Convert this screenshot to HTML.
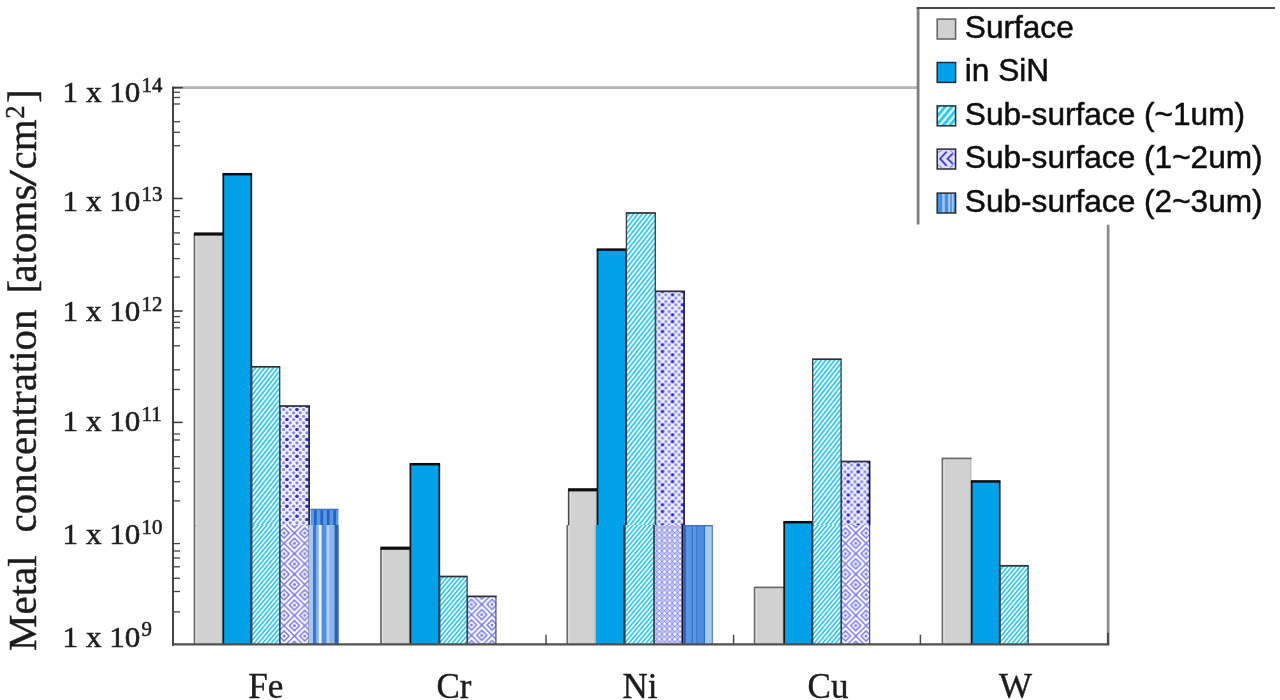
<!DOCTYPE html>
<html><head><meta charset="utf-8"><title>Metal concentration</title>
<style>
html,body{margin:0;padding:0;background:#fff;}
body{width:1280px;height:700px;overflow:hidden;position:relative;}
svg{position:absolute;left:0;top:0;display:block;}
.ser{font-family:"Liberation Serif","DejaVu Serif",serif;fill:#1c1c1c;}
.san{font-family:"Liberation Sans","DejaVu Sans",sans-serif;fill:#111;}
</style></head><body>
<svg width="1280" height="700" viewBox="0 0 1280 700">
<defs>
<pattern id="hatch" width="3.5" height="3.5" patternUnits="userSpaceOnUse" patternTransform="rotate(-52)">
<rect width="3.5" height="3.5" fill="#f0fdff"/><rect width="3.5" height="1.75" fill="#38c9ee"/></pattern>
<pattern id="hatchL" width="5.2" height="5.2" patternUnits="userSpaceOnUse" patternTransform="rotate(-50)">
<rect width="5.2" height="5.2" fill="#e4fbff"/><rect width="5.2" height="2.9" fill="#2cc8ea"/></pattern>
<pattern id="hatch2" width="3.3" height="3.3" patternUnits="userSpaceOnUse" patternTransform="rotate(-50)">
<rect width="3.3" height="3.3" fill="#f0fdff"/><rect width="3.3" height="1.65" fill="#38c9ee"/></pattern>
<pattern id="dia" width="20" height="20" patternUnits="userSpaceOnUse">
<rect width="20" height="20" fill="#f2f2fe"/>
<g fill="#8484ea"><circle cx="-6.32" cy="0.20" r="1.55"/><circle cx="0.35" cy="0.20" r="1.55"/><circle cx="7.02" cy="0.20" r="1.55"/><circle cx="13.68" cy="0.20" r="1.55"/><circle cx="20.35" cy="0.20" r="1.55"/><circle cx="-2.98" cy="3.53" r="1.55"/><circle cx="3.68" cy="3.53" r="1.55"/><circle cx="10.35" cy="3.53" r="1.55"/><circle cx="17.02" cy="3.53" r="1.55"/><circle cx="23.68" cy="3.53" r="1.55"/><circle cx="-6.32" cy="6.87" r="1.55"/><circle cx="0.35" cy="6.87" r="1.55"/><circle cx="7.02" cy="6.87" r="1.55"/><circle cx="13.68" cy="6.87" r="1.55"/><circle cx="20.35" cy="6.87" r="1.55"/><circle cx="-2.98" cy="10.20" r="1.55"/><circle cx="3.68" cy="10.20" r="1.55"/><circle cx="10.35" cy="10.20" r="1.55"/><circle cx="17.02" cy="10.20" r="1.55"/><circle cx="23.68" cy="10.20" r="1.55"/><circle cx="-6.32" cy="13.53" r="1.55"/><circle cx="0.35" cy="13.53" r="1.55"/><circle cx="7.02" cy="13.53" r="1.55"/><circle cx="13.68" cy="13.53" r="1.55"/><circle cx="20.35" cy="13.53" r="1.55"/><circle cx="-2.98" cy="16.87" r="1.55"/><circle cx="3.68" cy="16.87" r="1.55"/><circle cx="10.35" cy="16.87" r="1.55"/><circle cx="17.02" cy="16.87" r="1.55"/><circle cx="23.68" cy="16.87" r="1.55"/><circle cx="-6.32" cy="20.20" r="1.55"/><circle cx="0.35" cy="20.20" r="1.55"/><circle cx="7.02" cy="20.20" r="1.55"/><circle cx="13.68" cy="20.20" r="1.55"/><circle cx="20.35" cy="20.20" r="1.55"/></g>
<g fill="#2a2ad2"><circle cx="7.02" cy="13.53" r="1.75"/><circle cx="7.02" cy="0.2" r="1.75"/><circle cx="7.02" cy="20.2" r="1.75"/><circle cx="17.02" cy="3.53" r="1.75"/><circle cx="17.02" cy="10.2" r="1.75"/></g>
</pattern>
<pattern id="dia2" width="20.6" height="20.6" patternUnits="userSpaceOnUse" x="4.2" y="8">
<rect width="20.6" height="20.6" fill="#fbfbff"/>
<g fill="none" stroke="#7a7aea" stroke-width="1.5">
<path d="M0 10.3 L10.3 0 L20.6 10.3 L10.3 20.6 Z"/>
<path d="M5.3 10.3 L10.3 5.3 L15.3 10.3 L10.3 15.3 Z"/>
<path d="M-5 0 L0 -5 L5 0 L0 5 Z"/><path d="M15.6 0 L20.6 -5 L25.6 0 L20.6 5 Z"/>
<path d="M-5 20.6 L0 15.6 L5 20.6 L0 25.6 Z"/><path d="M15.6 20.6 L20.6 15.6 L25.6 20.6 L20.6 25.6 Z"/>
</g>
<g fill="#7a7aea"><circle cx="10.3" cy="10.3" r="1.5"/><circle cx="0" cy="0" r="1.5"/><circle cx="20.6" cy="0" r="1.5"/><circle cx="0" cy="20.6" r="1.5"/><circle cx="20.6" cy="20.6" r="1.5"/></g>
</pattern>
<pattern id="dia3" width="5.2" height="5.2" patternUnits="userSpaceOnUse">
<rect width="5.2" height="5.2" fill="#fafaff"/>
<path d="M0 2.6 L2.6 0 L5.2 2.6 L2.6 5.2 Z" fill="none" stroke="#8a8aec" stroke-width="1"/>
<rect x="2" y="2" width="1.2" height="1.2" fill="#6a6ae6"/></pattern>
<pattern id="vert" width="6.4" height="8" patternUnits="userSpaceOnUse" x="0.5">
<rect width="6.4" height="8" fill="#5c97e2"/><rect width="2.6" height="8" fill="#1f63c4"/></pattern>
</defs>
<filter id="soft" x="0" y="0" width="1280" height="700" filterUnits="userSpaceOnUse"><feGaussianBlur stdDeviation="0.55"/></filter>
<rect width="1280" height="700" fill="#fff"/>
<g filter="url(#soft)">

<path d="M173.2 87.6 H1108 V644.7" fill="none" stroke="#b2b2b2" stroke-width="2.6"/>
<path d="M1108.2 225 V644.7" fill="none" stroke="#8c8c8c" stroke-width="2.4"/>
<path d="M173.0 86.6 V645.7" stroke="#444" stroke-width="2"/>
<path d="M173.2 87.7 h9.5" stroke="#3a3a3a" stroke-width="1.5"/>
<path d="M173.2 198.5 h9.5" stroke="#3a3a3a" stroke-width="1.5"/>
<path d="M173.2 311.0 h9.5" stroke="#3a3a3a" stroke-width="1.5"/>
<path d="M173.2 422.4 h9.5" stroke="#3a3a3a" stroke-width="1.5"/>
<path d="M173.2 92.3 h6.8" stroke="#444" stroke-width="1.3"/>
<path d="M173.2 97.5 h6.8" stroke="#444" stroke-width="1.3"/>
<path d="M173.2 104 h6.8" stroke="#444" stroke-width="1.3"/>
<path d="M173.2 121.7 h6.8" stroke="#444" stroke-width="1.3"/>
<path d="M173.2 132.3 h6.8" stroke="#444" stroke-width="1.3"/>
<path d="M173.2 145.7 h6.8" stroke="#444" stroke-width="1.3"/>
<path d="M173.2 210.6 h6.8" stroke="#444" stroke-width="1.3"/>
<path d="M173.2 216.6 h6.8" stroke="#444" stroke-width="1.3"/>
<path d="M173.2 232.9 h6.8" stroke="#444" stroke-width="1.3"/>
<path d="M173.2 244.2 h6.8" stroke="#444" stroke-width="1.3"/>
<path d="M173.2 258.6 h6.8" stroke="#444" stroke-width="1.3"/>
<path d="M173.2 277.1 h6.8" stroke="#444" stroke-width="1.3"/>
<path d="M173.2 316.6 h6.8" stroke="#444" stroke-width="1.3"/>
<path d="M173.2 322.3 h6.8" stroke="#444" stroke-width="1.3"/>
<path d="M173.2 327.8 h6.8" stroke="#444" stroke-width="1.3"/>
<path d="M173.2 345.8 h6.8" stroke="#444" stroke-width="1.3"/>
<path d="M173.2 369.8 h6.8" stroke="#444" stroke-width="1.3"/>
<path d="M173.2 389.5 h6.8" stroke="#444" stroke-width="1.3"/>
<path d="M173.2 434 h6.8" stroke="#444" stroke-width="1.3"/>
<path d="M173.2 440 h6.8" stroke="#444" stroke-width="1.3"/>
<path d="M173.2 456.6 h6.8" stroke="#444" stroke-width="1.3"/>
<path d="M173.2 468.3 h6.8" stroke="#444" stroke-width="1.3"/>
<path d="M173.2 481.7 h6.8" stroke="#444" stroke-width="1.3"/>
<path d="M173.2 500.9 h6.8" stroke="#444" stroke-width="1.3"/>
<path d="M173.2 543.6 h6.8" stroke="#444" stroke-width="1.3"/>
<path d="M173.2 551 h6.8" stroke="#444" stroke-width="1.3"/>
<path d="M173.2 558 h6.8" stroke="#444" stroke-width="1.3"/>
<path d="M173.2 566.8 h6.8" stroke="#444" stroke-width="1.3"/>
<path d="M173.2 578.3 h6.8" stroke="#444" stroke-width="1.3"/>
<path d="M173.2 591.5 h6.8" stroke="#444" stroke-width="1.3"/>
<path d="M173.2 611.9 h6.8" stroke="#444" stroke-width="1.3"/>
<rect x="194.4" y="234.0" width="28.6" height="291.0" fill="#d1d1d1"/>
<path d="M194.6 525 V234.0" stroke="#6a6a6a" stroke-width="1.9" fill="none"/>
<path d="M196.0 525 V235.0" stroke="#e6e6e6" stroke-width="1.2" fill="none"/>
<path d="M222.2 525 V234.0" stroke="#bdbdbd" stroke-width="1.4" fill="none"/>
<rect x="194.4" y="525" width="28.6" height="119.7" fill="#d1d1d1"/>
<path d="M194.6 644.7 V525" stroke="#6a6a6a" stroke-width="1.9" fill="none"/>
<path d="M196.0 644.7 V526" stroke="#e6e6e6" stroke-width="1.2" fill="none"/>
<path d="M222.2 644.7 V525" stroke="#bdbdbd" stroke-width="1.4" fill="none"/>
<path d="M193.9 234.0 H223.5" stroke="#0d0d10" stroke-width="3.2"/>
<rect x="223.0" y="174.2" width="28.6" height="350.8" fill="#00a1e8"/>
<path d="M223.3 525 V174.2 M251.3 174.2 V525" stroke="#10141c" stroke-width="1.7" fill="none"/>
<rect x="223.0" y="525" width="28.6" height="119.7" fill="#00a1e8"/>
<path d="M223.3 644.7 V525 M251.3 525 V644.7" stroke="#10141c" stroke-width="1.7" fill="none"/>
<path d="M222.5 174.2 H252.1" stroke="#0d0d10" stroke-width="2.5"/>
<rect x="251.6" y="366.8" width="28.3" height="158.2" fill="url(#hatch)"/>
<path d="M251.8 525 V366.8 M279.7 366.8 V525" stroke="#33414a" stroke-width="1.3" fill="none"/>
<rect x="251.6" y="525" width="28.3" height="119.7" fill="url(#hatch2)"/>
<path d="M251.8 644.7 V525 M279.7 525 V644.7" stroke="#33414a" stroke-width="1.3" fill="none"/>
<path d="M251.2 366.8 H280.2" stroke="#2a3036" stroke-width="1.7"/>
<rect transform="translate(279.9 406.0)" width="29.7" height="119.0" fill="url(#dia)"/>
<path d="M309.1 406.0 V525" stroke="#15152a" stroke-width="1.6" fill="none"/>
<path d="M280.1 525 V406.0" stroke="#33414a" stroke-width="1.2" fill="none"/>
<rect transform="translate(279.9 525)" width="29.7" height="119.7" fill="url(#dia2)"/>
<path d="M309.1 525 V644.7" stroke="#55556a" stroke-width="1.2" fill="none"/>
<path d="M280.1 644.7 V525" stroke="#33414a" stroke-width="1.2" fill="none"/>
<path d="M279.5 406.0 H309.90000000000003" stroke="#2a3036" stroke-width="1.7"/>
<rect x="310.6" y="509.4" width="27.8" height="15.6" fill="url(#vert)"/>
<rect x="308.80" y="525" width="4.44" height="119.7" fill="#a8c8f0"/>
<rect x="312.94" y="525" width="3.85" height="119.7" fill="#3a7ad0"/>
<rect x="316.50" y="525" width="2.67" height="119.7" fill="#8db6ec"/>
<rect x="318.86" y="525" width="2.96" height="119.7" fill="#eef5fe"/>
<rect x="321.53" y="525" width="5.33" height="119.7" fill="#5090e0"/>
<rect x="326.56" y="525" width="2.96" height="119.7" fill="#b0cff4"/>
<rect x="329.22" y="525" width="5.63" height="119.7" fill="#8db6ec"/>
<rect x="334.55" y="525" width="4.15" height="119.7" fill="#2a62ba"/>
<path d="M310.6 509.4 H338.4" stroke="#3a74cc" stroke-width="1.4"/>
<rect x="380.9" y="548.2" width="29.2" height="96.5" fill="#d1d1d1"/>
<path d="M381.1 644.7 V548.2" stroke="#6a6a6a" stroke-width="1.9" fill="none"/>
<path d="M382.5 644.7 V549.2" stroke="#e6e6e6" stroke-width="1.2" fill="none"/>
<path d="M409.3 644.7 V548.2" stroke="#bdbdbd" stroke-width="1.4" fill="none"/>
<path d="M380.4 548.2 H410.6" stroke="#0d0d10" stroke-width="3.2"/>
<rect x="410.1" y="464.2" width="29.5" height="60.8" fill="#00a1e8"/>
<path d="M410.4 525 V464.2 M439.3 464.2 V525" stroke="#10141c" stroke-width="1.7" fill="none"/>
<rect x="410.1" y="525" width="29.5" height="119.7" fill="#00a1e8"/>
<path d="M410.4 644.7 V525 M439.3 525 V644.7" stroke="#10141c" stroke-width="1.7" fill="none"/>
<path d="M409.6 464.2 H440.1" stroke="#0d0d10" stroke-width="2.5"/>
<rect x="439.6" y="576.5" width="27.7" height="68.2" fill="url(#hatch2)"/>
<path d="M439.8 644.7 V576.5 M467.1 576.5 V644.7" stroke="#33414a" stroke-width="1.3" fill="none"/>
<path d="M439.20000000000005 576.5 H467.6" stroke="#2a3036" stroke-width="1.7"/>
<rect transform="translate(467.3 596.4)" width="29.1" height="48.3" fill="url(#dia2)"/>
<path d="M495.9 596.4 V644.7" stroke="#55556a" stroke-width="1.2" fill="none"/>
<path d="M467.5 644.7 V596.4" stroke="#33414a" stroke-width="1.2" fill="none"/>
<path d="M466.90000000000003 596.4 H496.7" stroke="#2a3036" stroke-width="1.7"/>
<rect x="568.6" y="489.8" width="28.6" height="35.2" fill="#d1d1d1"/>
<path d="M568.8 525 V489.8" stroke="#4a4a4a" stroke-width="1.9" fill="none"/>
<path d="M570.2 525 V490.8" stroke="#e6e6e6" stroke-width="1.2" fill="none"/>
<path d="M596.4 525 V489.8" stroke="#bdbdbd" stroke-width="1.4" fill="none"/>
<rect x="567.2" y="525" width="28.6" height="119.7" fill="#d1d1d1"/>
<path d="M567.4 644.7 V525" stroke="#6a6a6a" stroke-width="1.9" fill="none"/>
<path d="M568.8 644.7 V526" stroke="#e6e6e6" stroke-width="1.2" fill="none"/>
<path d="M595.0 644.7 V525" stroke="#bdbdbd" stroke-width="1.4" fill="none"/>
<path d="M568.1 489.8 H597.7" stroke="#0d0d10" stroke-width="3.2"/>
<rect x="597.2" y="249.6" width="29.0" height="275.4" fill="#00a1e8"/>
<path d="M597.5 525 V249.6 M625.9 249.6 V525" stroke="#10141c" stroke-width="1.7" fill="none"/>
<rect x="595.8" y="525" width="29.0" height="119.7" fill="#00a1e8"/>
<path d="M624.6 525 V644.7" stroke="#0c1018" stroke-width="2.2" fill="none"/>
<path d="M596.7 249.6 H626.7" stroke="#0d0d10" stroke-width="2.5"/>
<rect x="626.2" y="213.0" width="29.3" height="312.0" fill="url(#hatch)"/>
<path d="M626.4 525 V213.0 M655.3 213.0 V525" stroke="#33414a" stroke-width="1.3" fill="none"/>
<rect x="624.8" y="525" width="29.3" height="119.7" fill="url(#hatch2)"/>
<path d="M625.0 644.7 V525 M653.9 525 V644.7" stroke="#33414a" stroke-width="1.3" fill="none"/>
<path d="M625.8000000000001 213.0 H655.8" stroke="#2a3036" stroke-width="1.7"/>
<rect transform="translate(655.5 291.3)" width="29.1" height="233.7" fill="url(#dia)"/>
<path d="M684.1 291.3 V525" stroke="#15152a" stroke-width="1.6" fill="none"/>
<path d="M655.7 525 V291.3" stroke="#33414a" stroke-width="1.2" fill="none"/>
<rect transform="translate(654.1 525)" width="29.1" height="119.7" fill="url(#dia3)"/>
<path d="M682.6 525 V644.7" stroke="#0c0c20" stroke-width="2" fill="none"/>
<path d="M654.3 644.7 V525" stroke="#33414a" stroke-width="1.2" fill="none"/>
<path d="M655.1 291.3 H684.9" stroke="#2a3036" stroke-width="1.7"/>
<rect x="684.00" y="525.7" width="2.03" height="119.0" fill="#2a5fb4"/>
<rect x="685.73" y="525.7" width="6.35" height="119.0" fill="#5a95e1"/>
<rect x="691.78" y="525.7" width="1.74" height="119.0" fill="#2f6fcb"/>
<rect x="693.22" y="525.7" width="3.18" height="119.0" fill="#5a95e1"/>
<rect x="696.10" y="525.7" width="1.74" height="119.0" fill="#2f6fcb"/>
<rect x="697.54" y="525.7" width="6.35" height="119.0" fill="#4f8ddd"/>
<rect x="703.58" y="525.7" width="1.74" height="119.0" fill="#2f6fcb"/>
<rect x="705.02" y="525.7" width="6.92" height="119.0" fill="#a6caf3"/>
<rect x="711.65" y="525.7" width="1.45" height="119.0" fill="#6a8cc8"/>
<path d="M684.0 525.7 H712.8" stroke="#3a74cc" stroke-width="1.4"/>
<rect x="754.5" y="587.4" width="29.4" height="57.3" fill="#d1d1d1"/>
<path d="M754.7 644.7 V587.4" stroke="#6a6a6a" stroke-width="1.9" fill="none"/>
<path d="M756.1 644.7 V588.4" stroke="#e6e6e6" stroke-width="1.2" fill="none"/>
<path d="M783.1 644.7 V587.4" stroke="#bdbdbd" stroke-width="1.4" fill="none"/>
<path d="M754.0 587.4 H784.1999999999999" stroke="#666" stroke-width="1.6"/>
<rect x="783.9" y="522.2" width="28.6" height="2.8" fill="#00a1e8"/>
<path d="M784.2 525 V522.2 M812.2 522.2 V525" stroke="#10141c" stroke-width="1.7" fill="none"/>
<rect x="783.9" y="525" width="28.6" height="119.7" fill="#00a1e8"/>
<path d="M784.2 644.7 V525 M812.2 525 V644.7" stroke="#10141c" stroke-width="1.7" fill="none"/>
<path d="M783.4 522.2 H813.0" stroke="#0d0d10" stroke-width="2.5"/>
<rect x="812.5" y="359.2" width="28.8" height="165.8" fill="url(#hatch)"/>
<path d="M812.7 525 V359.2 M841.1 359.2 V525" stroke="#33414a" stroke-width="1.3" fill="none"/>
<rect x="812.5" y="525" width="28.8" height="119.7" fill="url(#hatch2)"/>
<path d="M812.7 644.7 V525 M841.1 525 V644.7" stroke="#33414a" stroke-width="1.3" fill="none"/>
<path d="M812.1 359.2 H841.5999999999999" stroke="#2a3036" stroke-width="1.7"/>
<rect transform="translate(841.3 461.5)" width="28.8" height="63.5" fill="url(#dia)"/>
<path d="M869.6 461.5 V525" stroke="#15152a" stroke-width="1.6" fill="none"/>
<path d="M841.5 525 V461.5" stroke="#33414a" stroke-width="1.2" fill="none"/>
<rect transform="translate(841.3 525)" width="28.8" height="119.7" fill="url(#dia2)"/>
<path d="M869.6 525 V644.7" stroke="#55556a" stroke-width="1.2" fill="none"/>
<path d="M841.5 644.7 V525" stroke="#33414a" stroke-width="1.2" fill="none"/>
<path d="M840.9 461.5 H870.4" stroke="#2a3036" stroke-width="1.7"/>
<rect x="942.3" y="458.4" width="29.1" height="186.3" fill="#d1d1d1"/>
<path d="M942.5 644.7 V458.4" stroke="#6a6a6a" stroke-width="1.9" fill="none"/>
<path d="M943.9 644.7 V459.4" stroke="#e6e6e6" stroke-width="1.2" fill="none"/>
<path d="M970.6 644.7 V458.4" stroke="#bdbdbd" stroke-width="1.4" fill="none"/>
<path d="M941.8 458.4 H971.6999999999999" stroke="#666" stroke-width="1.6"/>
<rect x="971.4" y="481.4" width="28.6" height="163.3" fill="#00a1e8"/>
<path d="M971.7 644.7 V481.4 M999.7 481.4 V644.7" stroke="#10141c" stroke-width="1.7" fill="none"/>
<path d="M970.9 481.4 H1000.5" stroke="#0d0d10" stroke-width="2.5"/>
<rect x="1000.0" y="565.8" width="28.3" height="78.9" fill="url(#hatch2)"/>
<path d="M1000.2 644.7 V565.8 M1028.1 565.8 V644.7" stroke="#33414a" stroke-width="1.3" fill="none"/>
<path d="M999.6 565.8 H1028.6" stroke="#2a3036" stroke-width="1.7"/>
<path d="M172.0 644.4000000000001 H1109.2" stroke="#505050" stroke-width="2.2"/>
<path d="M546 644.7 v-10" stroke="#4a4a4a" stroke-width="1.5"/>
<path d="M733.6 644.7 v-10" stroke="#4a4a4a" stroke-width="1.5"/>
<path d="M920.4 644.7 v-10" stroke="#4a4a4a" stroke-width="1.5"/>
<path d="M1108 644.7 v-12" stroke="#444" stroke-width="1.8"/>
<rect x="917" y="0" width="363" height="224.5" fill="#fff"/>
<path d="M918.1 224.5 V8" fill="none" stroke="#7e7e7e" stroke-width="2.8"/><path d="M916.7 8.1 H1275" fill="none" stroke="#484848" stroke-width="2"/>
<rect x="937.2" y="19.1" width="18.4" height="19.9" fill="#d1d1d1" stroke="#5e5e5e" stroke-width="1.5"/>
<text class="san" transform="translate(964.8 37.8) scale(1.027 1)" font-size="30.8" stroke="#111" stroke-width="0.5">Surface</text>
<rect x="937.2" y="62.50000000000001" width="18.4" height="19.9" fill="#00a1e8" stroke="#2a2a33" stroke-width="1.5"/>
<text class="san" transform="translate(964.8 81.2) scale(1.027 1)" font-size="30.8" stroke="#111" stroke-width="0.5">in SiN</text>
<g transform="translate(937.2 105.89999999999999)"><rect width="18.4" height="19.9" fill="url(#hatchL)" stroke="#2a2a33" stroke-width="1.5"/></g>
<text class="san" transform="translate(964.8 124.6) scale(1.027 1)" font-size="30.8" stroke="#111" stroke-width="0.5">Sub-surface (~1um)</text>
<g transform="translate(937.2 149.1)"><rect width="18.4" height="19.9" fill="#dcdcf9"/><g fill="none" stroke="#3a3ace" stroke-width="1.7"><path d="M9.5 2.5 L2.8 9.6 L9.5 16.7"/><path d="M15.5 4.6 L10.3 9.6 L15.5 14.6"/></g><g fill="none" stroke="#8f8fea" stroke-width="1.2"><path d="M13 1 L18 6 M13 18.4 L18 13.2 M1 3.5 L4.5 0.8 M1 15.8 L4.5 18.6"/></g><rect width="18.4" height="19.9" fill="none" stroke="#2a2a33" stroke-width="1.5"/></g>
<text class="san" transform="translate(964.8 167.8) scale(1.027 1)" font-size="30.8" stroke="#111" stroke-width="0.5">Sub-surface (1~2um)</text>
<g transform="translate(937.2 193.1)"><rect width="18.4" height="19.9" fill="#4a8fe0"/><rect x="5.2" width="2.3" height="19.9" fill="#a9ccf3"/><rect x="11" width="2" height="19.9" fill="#a9ccf3"/><rect x="14.6" width="1.8" height="19.9" fill="#a9ccf3"/><rect width="18.4" height="19.9" fill="none" stroke="#2a2a33" stroke-width="1.5"/></g>
<text class="san" transform="translate(964.8 211.8) scale(1.027 1)" font-size="30.8" stroke="#111" stroke-width="0.5">Sub-surface (2~3um)</text>
<text class="ser" transform="translate(62.6 102.3) scale(1.03 1)" font-size="30.2" stroke="#1c1c1c" stroke-width="0.55">1 x 10<tspan dx="1.2" dy="-10.2" font-size="20.2">14</tspan></text>
<text class="ser" transform="translate(62.6 211.1) scale(1.03 1)" font-size="30.2" stroke="#1c1c1c" stroke-width="0.55">1 x 10<tspan dx="1.2" dy="-10.2" font-size="20.2">13</tspan></text>
<text class="ser" transform="translate(62.6 321.2) scale(1.03 1)" font-size="30.2" stroke="#1c1c1c" stroke-width="0.55">1 x 10<tspan dx="1.2" dy="-10.2" font-size="20.2">12</tspan></text>
<text class="ser" transform="translate(62.6 431.2) scale(1.03 1)" font-size="30.2" stroke="#1c1c1c" stroke-width="0.55">1 x 10<tspan dx="1.2" dy="-10.2" font-size="20.2">11</tspan></text>
<text class="ser" transform="translate(62.6 544.2) scale(1.03 1)" font-size="30.2" stroke="#1c1c1c" stroke-width="0.55">1 x 10<tspan dx="1.2" dy="-10.2" font-size="20.2">10</tspan></text>
<text class="ser" transform="translate(62.6 646.5) scale(1.03 1)" font-size="30.2" stroke="#1c1c1c" stroke-width="0.55">1 x 10<tspan dx="1.2" dy="-10.2" font-size="20.2">9</tspan></text>
<text class="ser" x="265.8" y="697.6" font-size="35" text-anchor="middle" stroke="#1c1c1c" stroke-width="0.4">Fe</text>
<text class="ser" x="453.9" y="697.6" font-size="35" text-anchor="middle" stroke="#1c1c1c" stroke-width="0.4">Cr</text>
<text class="ser" x="640" y="697.6" font-size="35" text-anchor="middle" stroke="#1c1c1c" stroke-width="0.4">Ni</text>
<text class="ser" x="828" y="697.6" font-size="35" text-anchor="middle" stroke="#1c1c1c" stroke-width="0.4">Cu</text>
<text class="ser" x="1015.4" y="697.6" font-size="35" text-anchor="middle" stroke="#1c1c1c" stroke-width="0.4">W</text>
<g transform="translate(36 0) rotate(-90)" font-size="41" stroke="#1c1c1c" stroke-width="0.4"><text class="ser" x="-651" y="0">Metal</text><text class="ser" x="-532.5" y="0">concentration</text><text class="ser" x="-293.6" y="0">[</text><text class="ser" x="-282.6" y="0">atoms</text><text class="ser" transform="translate(-186.6 0) scale(1.45 1)">/</text><text class="ser" x="-169.4" y="0">cm</text><text class="ser" x="-118.8" y="-12" font-size="26.5">2</text><text class="ser" x="-102.9" y="0">]</text></g>
</g></svg></body></html>
